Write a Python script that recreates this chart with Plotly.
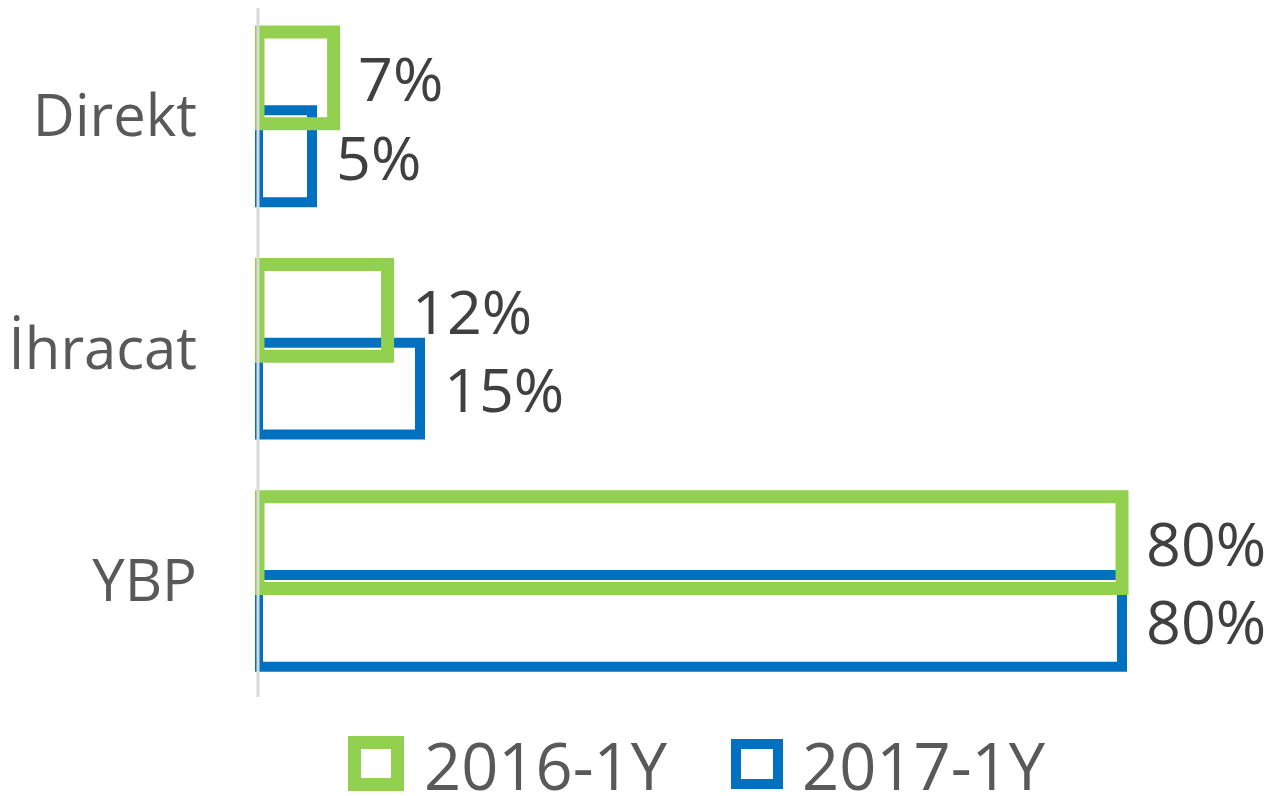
import plotly.graph_objects as go

categories = ["Direkt", "İhracat", "YBP"]
series_names = ["2016-1Y", "2017-1Y"]
values_2016 = [7, 12, 80]
values_2017 = [5, 15, 80]
value_labels_2016 = ["7%", "12%", "80%"]
value_labels_2017 = ["5%", "15%", "80%"]

GREEN = "#92D050"
BLUE = "#0070C0"
FONT = "Open Sans"

OFS = 8  # page body margin
W, H = 1282 - OFS, 796 - OFS
ML, MR, MT, MB = 255 - OFS, 7, 0, 99
PW = W - ML - MR
PH = H - MT - MB
BAND = 697 / 3.0
Y_TOP = -0.5 + OFS / BAND

BAR_W = 0.395
OFF_G = -0.362
OFF_B = -0.025
XSCALE = 10.8

fig = go.Figure()
# blue first, green drawn on top
fig.add_trace(go.Bar(
    y=categories, x=values_2017, orientation="h", name=series_names[1],
    width=BAR_W, offset=OFF_B,
    marker=dict(color="rgba(0,0,0,0)", line=dict(color=BLUE, width=10)),
    showlegend=False, hoverinfo="skip",
))
fig.add_trace(go.Bar(
    y=categories, x=values_2016, orientation="h", name=series_names[0],
    width=BAR_W, offset=OFF_G,
    marker=dict(color="rgba(0,0,0,0)", line=dict(color=GREEN, width=13)),
    showlegend=False, hoverinfo="skip",
))

annotations = []
for i, (v, t) in enumerate(zip(values_2016, value_labels_2016)):
    annotations.append(dict(x=v, y=i + OFF_G + BAR_W / 2, xref="x", yref="y", text=t,
                            showarrow=False, xanchor="left", yanchor="middle", xshift=22,
                            font=dict(family=FONT, size=61, color="#404040")))
for i, (v, t) in enumerate(zip(values_2017, value_labels_2017)):
    annotations.append(dict(x=v, y=i + OFF_B + BAR_W / 2, xref="x", yref="y", text=t,
                            showarrow=False, xanchor="left", yanchor="middle", xshift=22,
                            font=dict(family=FONT, size=61, color="#404040")))


def px_x(p):
    return (p - OFS - ML) / PW


def px_y(p):
    return (MT + PH - (p - OFS)) / PH


# custom legend
legend_items = [
    (series_names[0], GREEN, 13, (354.5, 742.5, 397.5, 784.5), 422),
    (series_names[1], BLUE, 10, (736, 744, 778, 784), 800),
]
shapes = [dict(type="line", xref="x", yref="paper", x0=0, x1=0, y0=0, y1=1,
               line=dict(color="#D9D9D9", width=3), layer="above")]
for name, col, lw, (x0, y0, x1, y1), tx in legend_items:
    shapes.append(dict(type="rect", xref="paper", yref="paper",
                       x0=px_x(x0), x1=px_x(x1), y0=px_y(y1), y1=px_y(y0),
                       line=dict(color=col, width=lw), fillcolor="white", layer="above"))
    annotations.append(dict(x=px_x(tx), y=px_y(764.5), xref="paper", yref="paper", text=name,
                            showarrow=False, xanchor="left", yanchor="middle", height=60,
                            font=dict(family=FONT, size=65, color="#595959")))

fig.update_layout(
    width=W, height=H,
    margin=dict(l=ML, r=MR, t=MT, b=MB, pad=0),
    paper_bgcolor="white", plot_bgcolor="white",
    barmode="overlay",
    showlegend=False,
    xaxis=dict(range=[-3 / XSCALE, (PW - 3) / XSCALE], showgrid=False, zeroline=False,
               showticklabels=False, showline=False, ticks=""),
    yaxis=dict(categoryorder="array", categoryarray=categories, range=[2.5, Y_TOP],
               showgrid=False, zeroline=False, showline=False, ticks="",
               ticklabelstandoff=57,
               tickfont=dict(family=FONT, size=58, color="#595959")),
    annotations=annotations,
    shapes=shapes,
)

fig.write_html("out.html")
